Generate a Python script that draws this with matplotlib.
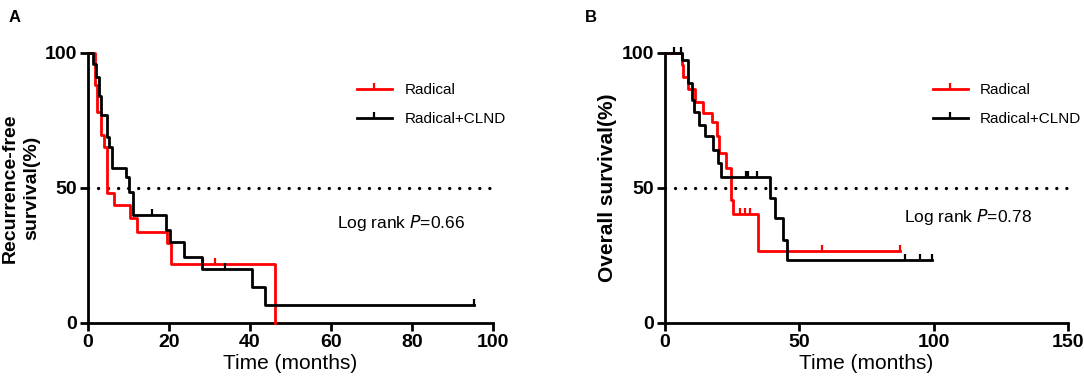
import matplotlib
matplotlib.use("Agg")
import matplotlib.pyplot as plt
import numpy as np
from matplotlib.path import Path
from matplotlib.lines import Line2D

plt.rcParams['font.family'] = ['Liberation Sans', 'DejaVu Sans']

# Panel A: recurrence-free survival (step times in months, survival %)
rfs_radical_t = [0, 1.7, 2.1, 3.3, 3.9, 4.6, 6.5, 10.3, 12.2, 19.5, 20.4, 46.1]
rfs_radical_s = [100, 88, 78.3, 69.6, 65.3, 48, 43.7, 38.8, 33.8, 29.5, 21.9, 0]
rfs_radical_cens = [28.3, 31.4]

rfs_clnd_t = [0, 1.2, 2.0, 2.6, 3.3, 4.6, 5.2, 6.0, 9.4, 10.1, 11.0, 19.3, 20.3,
              23.7, 28.1, 40.5, 43.8, 95.2]
rfs_clnd_s = [100, 95.9, 91, 84, 77, 69, 65.3, 57.5, 54.2, 48.6, 40, 34.4, 30.1,
              24.6, 19.9, 13.2, 6.7, 6.7]
rfs_clnd_cens = [15.7, 33.9, 95.2]

# Panel B: overall survival
os_radical_t = [0, 6.2, 6.6, 8.4, 11.2, 14.0, 17.4, 19.2, 20.2, 22.7, 24.6, 25.4,
                34.7, 87.5]
os_radical_s = [100, 95.7, 91, 86.5, 82, 77.9, 74.4, 69.1, 62.8, 57.3, 45.6, 40.4,
                26.8, 26.8]
os_radical_cens = [27.9, 29.6, 31.6, 58.5, 87.5]

os_clnd_t = [0, 6.2, 8.7, 10.2, 10.9, 12.8, 14.9, 17.7, 19.6, 20.7, 39.1, 40.9,
             43.8, 45.5, 99.2]
os_clnd_s = [100, 97.4, 88.8, 82.6, 78.3, 73.3, 69.1, 64, 59.1, 54.2, 46.2, 38.8,
             30.7, 23.3, 23.3]
os_clnd_cens = [3.4, 5.8, 30.1, 31.0, 34.1, 89.3, 94.9, 99.2]

RED = '#ff0000'
BLACK = '#000000'
tick_up = Path([(0, 0), (0, 1)], [Path.MOVETO, Path.LINETO])


def surv_at(times, surv, t):
    idx = np.searchsorted(times, t, side='right') - 1
    return np.asarray(surv)[idx]


def draw_panel(ax, groups, xmax, xticks, ylabel, ylsize, ptext, ptext_pos):
    for t, s, cens, col in groups:
        ax.step(t, s, where='post', color=col, lw=2, clip_on=False, zorder=3)
        ax.plot(cens, surv_at(t, s, cens), ls='none', marker=tick_up, ms=8,
                mew=1.6, color=col, clip_on=False, zorder=3)
    ax.plot([0, xmax], [50, 50], color='black', ls=(0, (0.01, 3.0)), lw=2.4,
            dash_capstyle='round', clip_on=False)
    ax.set_xlim(0, xmax)
    ax.set_ylim(0, 100)
    ax.set_xticks(xticks)
    ax.set_yticks([0, 50, 100])
    for side in ('top', 'right'):
        ax.spines[side].set_visible(False)
    for side in ('left', 'bottom'):
        ax.spines[side].set_linewidth(2)
    ax.tick_params(width=2, length=6, labelsize=14, pad=2)
    for lab in ax.get_xticklabels() + ax.get_yticklabels():
        lab.set_fontweight('bold')
    ax.set_xlabel('Time (months)', fontsize=15, labelpad=2)
    ax.set_ylabel(ylabel, fontsize=ylsize, fontweight='bold', labelpad=3,
                  linespacing=1.35)
    ax.text(ptext_pos[0], ptext_pos[1], ptext, fontsize=12.5)
    handles = [Line2D([], [], color=RED, lw=2, marker=tick_up, ms=8, mew=1.6),
               Line2D([], [], color=BLACK, lw=2, marker=tick_up, ms=8, mew=1.6)]
    ax.legend(handles, ['Radical', 'Radical+CLND'], loc='upper left',
              bbox_to_anchor=(0.63, 0.94), frameon=False, fontsize=11,
              numpoints=1, handlelength=2.3, labelspacing=1.0)


fig = plt.figure(figsize=(10.84, 3.87), dpi=100)
axA = fig.add_axes([0.0812, 0.1654, 0.3736, 0.6977])
axB = fig.add_axes([0.6135, 0.1654, 0.3718, 0.6977])

draw_panel(axA,
           [(rfs_radical_t, rfs_radical_s, rfs_radical_cens, RED),
            (rfs_clnd_t, rfs_clnd_s, rfs_clnd_cens, BLACK)],
           100, [0, 20, 40, 60, 80, 100], 'Recurrence-free\nsurvival(%)', 14,
           'Log rank $\\it{P}$=0.66', (61.5, 35))
draw_panel(axB,
           [(os_radical_t, os_radical_s, os_radical_cens, RED),
            (os_clnd_t, os_clnd_s, os_clnd_cens, BLACK)],
           150, [0, 50, 100, 150], 'Overall survival(%)', 15,
           'Log rank $\\it{P}$=0.78', (89, 37.5))

fig.text(0.0075, 0.955, 'A', fontsize=12, fontweight='bold', va='center')
fig.text(0.54, 0.955, 'B', fontsize=12, fontweight='bold', va='center')

fig.savefig('out.png', dpi=100)
